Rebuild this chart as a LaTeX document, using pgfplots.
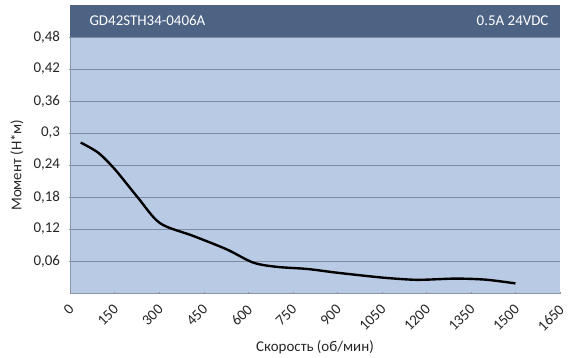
\documentclass[border=0pt]{standalone}
\usepackage{fontspec}
\setmainfont{Carlito}
\usepackage{pgfplots}
\pgfplotsset{compat=1.18}
\definecolor{plotbg}{HTML}{B9CAE4}
\definecolor{band}{HTML}{4D6384}
\definecolor{gridc}{HTML}{7D8CA3}
\definecolor{axisc}{HTML}{8A96A8}
\definecolor{txt}{HTML}{262626}

\begin{document}
\begin{tikzpicture}[x=1bp,y=1bp]
\begin{axis}[
  scale only axis,
  at={(0,0)}, anchor=south west,
  width=490bp, height=288bp,
  xmin=0, xmax=1650, ymin=0, ymax=0.54,
  axis x line=bottom, axis y line=left,
  axis line style={axisc, line width=0.8pt, -},
  axis background/.style={fill=plotbg},
  xtick={0,150,...,1650},
  ytick={0.06,0.12,...,0.48},
  ymajorgrids, grid style={gridc, line width=0.7pt},
  major tick length=3pt,
  tick style={axisc},
  x tick label style={rotate=45, anchor=north east, font=\fontsize{15}{17}\selectfont, text=txt, inner sep=2pt, xshift=-5.7bp, yshift=-2.8bp},
  y tick label style={font=\fontsize{15}{17}\selectfont, text=txt, xshift=-5bp},
  /pgf/number format/assume math mode=true,
  /pgf/number format/use comma,
  /pgf/number format/1000 sep={},
  yticklabel style={/pgf/number format/fixed},
  xlabel={Скорость (об/мин)},
  ylabel={Момент (Н*м)},
  xlabel style={at={(rel axis cs:0.5,0)}, anchor=center, yshift=-54bp},
  ylabel style={at={(rel axis cs:0,0.444)}, anchor=center, yshift=53bp},
  label style={font=\fontsize{15}{17}\selectfont, text=txt},
  clip=false,
]
\fill[band] (axis cs:0,0.48) rectangle (axis cs:1650,0.54);
\node[anchor=west, white, font=\fontsize{15}{17}\selectfont] at (axis cs:54,0.51) {GD42STH34-0406A};
\node[anchor=east, white, font=\fontsize{15}{17}\selectfont] at (axis cs:1623,0.51) {0.5A 24VDC};
\addplot[black, line width=2.4pt, smooth, tension=0.5] coordinates {
  (36,0.282) (95,0.263) (151,0.232) (227,0.180) (303,0.131)
  (415,0.107) (527,0.082) (617,0.057) (697,0.049) (800,0.045)
  (900,0.038) (1050,0.029) (1150,0.025) (1200,0.025) (1300,0.027)
  (1400,0.025) (1500,0.018)
};
\end{axis}
\pgfresetboundingbox
\path[use as bounding box] (-70bp,-65bp) rectangle (499bp,293bp);
\end{tikzpicture}
\end{document}
